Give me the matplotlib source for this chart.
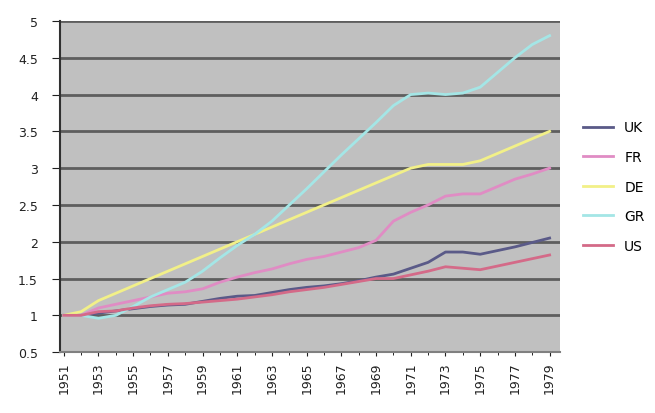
import numpy as np
import matplotlib
matplotlib.use("Agg")
import matplotlib.pyplot as plt

years = list(range(1951, 1980))

uk = [1.00, 1.00, 1.03, 1.06, 1.09, 1.12, 1.14, 1.15, 1.19, 1.23, 1.26, 1.27, 1.31, 1.35,
      1.38, 1.40, 1.43, 1.47, 1.52, 1.56, 1.64, 1.72, 1.86, 1.86, 1.83, 1.88, 1.93, 1.99, 2.05]
fr = [1.00, 1.00, 1.10, 1.15, 1.20, 1.25, 1.30, 1.32, 1.36, 1.45, 1.52, 1.58, 1.63, 1.70,
      1.76, 1.80, 1.86, 1.92, 2.02, 2.28, 2.40, 2.50, 2.62, 2.65, 2.65, 2.75, 2.85, 2.92, 3.00]
de = [1.00, 1.05, 1.20, 1.30, 1.40, 1.50, 1.60, 1.70, 1.80, 1.90, 2.00, 2.10, 2.20, 2.30,
      2.40, 2.50, 2.60, 2.70, 2.80, 2.90, 3.00, 3.05, 3.05, 3.05, 3.10, 3.20, 3.30, 3.40, 3.50]
gr = [1.00, 1.00, 0.96, 1.00, 1.12, 1.25, 1.35, 1.45, 1.60, 1.78, 1.95, 2.10, 2.28, 2.50,
      2.72, 2.95, 3.18, 3.40, 3.62, 3.85, 4.00, 4.02, 4.00, 4.02, 4.10, 4.30, 4.50, 4.68, 4.80]
us = [1.00, 1.00, 1.05, 1.06, 1.10, 1.13, 1.15, 1.16, 1.18, 1.20, 1.22, 1.25, 1.28, 1.32,
      1.35, 1.38, 1.42, 1.46, 1.50, 1.50, 1.55, 1.60, 1.66, 1.64, 1.62, 1.67, 1.72, 1.77, 1.82]

series = [("UK", uk, "#5a5a88"), ("FR", fr, "#e08cc4"), ("DE", de, "#f2f088"),
          ("GR", gr, "#a4e6e6"), ("US", us, "#d46a88")]

fig = plt.figure(figsize=(6.55, 4.14), dpi=100)
ax = fig.add_axes([0.092, 0.147, 0.763, 0.800])
ax.set_facecolor("#c0c0c0")

x = np.arange(len(years))
for name, vals, col in series:
    ax.plot(x, vals, color=col, lw=2, label=name, zorder=3)

ax.set_ylim(0.5, 5)
ax.set_yticks(np.arange(0.5, 5.01, 0.5))
ax.set_yticklabels(["0.5", "1", "1.5", "2", "2.5", "3", "3.5", "4", "4.5", "5"])
ax.yaxis.grid(True, color="#5e5e5e", lw=2)
ax.set_axisbelow(True)

ax.set_xlim(-0.2, 28.6)
ax.set_xticks(x[::2])
ax.set_xticklabels([str(y) for y in years[::2]], rotation=90)
ax.set_xticks(x, minor=True)

for s in ["top", "right"]:
    ax.spines[s].set_visible(False)
ax.spines["left"].set_color("#303030")
ax.spines["left"].set_linewidth(1.5)
ax.spines["bottom"].set_color("#808080")
ax.spines["bottom"].set_linewidth(1.5)
ax.tick_params(axis="both", labelsize=9, colors="#202020")
ax.tick_params(axis="y", length=6, pad=10)
ax.tick_params(axis="x", length=3)
ax.tick_params(axis="x", which="minor", length=2)

ax.legend(loc="center left", bbox_to_anchor=(1.02, 0.5), frameon=False,
          fontsize=10, handlelength=2.2, labelspacing=1.12)

fig.savefig("out.png", dpi=100)
